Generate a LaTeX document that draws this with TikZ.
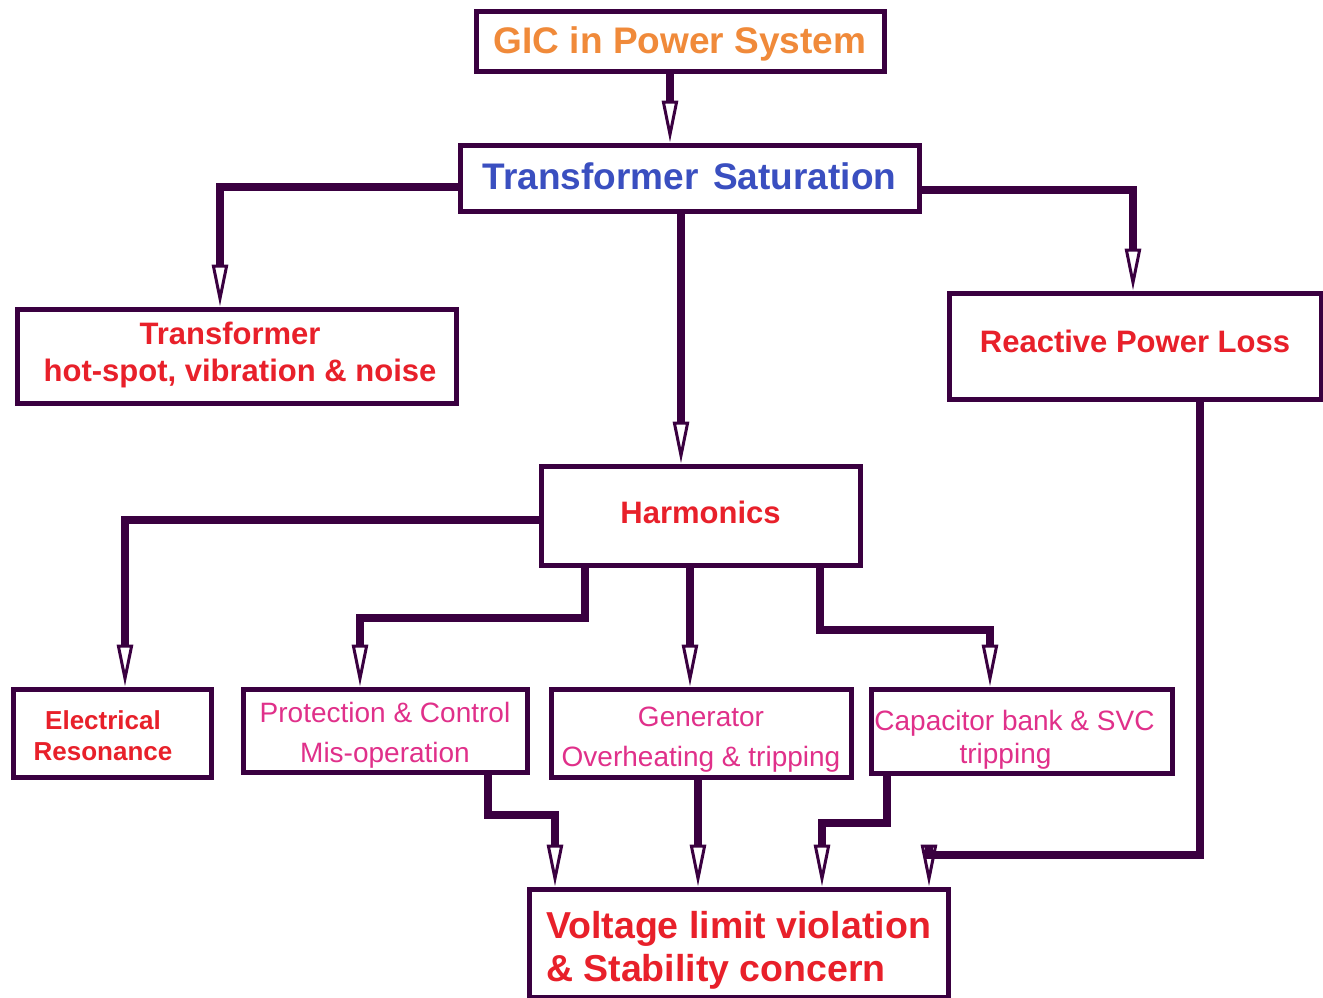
\documentclass[tikz,border=0pt]{standalone}
\usepackage{fontspec}
\setmainfont{Liberation Sans}
\usetikzlibrary{arrows.meta,calc}
\definecolor{linec}{HTML}{3A0040}
\definecolor{orangec}{HTML}{F08A3A}
\definecolor{bluec}{HTML}{3A4FC0}
\definecolor{redc}{HTML}{E8202A}
\definecolor{pinkc}{HTML}{E0308A}
\tikzset{
  box/.style={draw=linec, line width=5pt, fill=white, inner sep=0pt, align=center},
  conn/.style={draw=linec, line width=8pt, line join=miter, -{Triangle[open,length=42pt,width=16pt,line width=3pt]}},
  bigb/.style={font=\fontsize{31}{37}\selectfont\bfseries, text=redc},
  smallp/.style={font=\fontsize{28}{40}\selectfont, text=pinkc},
}
\begin{document}
\begin{tikzpicture}[x=1pt,y=-1pt]
\useasboundingbox (0,0) rectangle (1323,997);
\clip (0,0) rectangle (1323,997);
% nodes
\node[box, minimum width=408pt, minimum height=60pt, text height=30pt, text depth=6pt, font=\fontsize{37}{40}\selectfont\bfseries, text=orangec] (gic) at (680,41) {GIC in Power System};
\node[box, minimum width=459pt, minimum height=66pt, text height=28pt, text depth=6pt, font=\fontsize{37}{40}\selectfont\bfseries, text=bluec] (ts) at (689.5,178) {Transformer\hspace{0.12em} Saturation};
\node[box, bigb, minimum width=439pt, minimum height=94pt, text height=60pt, text depth=10pt] (hot) at (236.5,356) {Transformer\hspace*{13pt}\\\hspace*{7pt}hot-spot, vibration \& noise};
\node[box, bigb, minimum width=372pt, minimum height=106pt, text height=20pt, text depth=8pt] (rpl) at (1135,346) {Reactive Power Loss};
\node[box, bigb, minimum width=319pt, minimum height=99pt, text height=22pt, text depth=7pt] (harm) at (700.5,515.5) {Harmonics};
\node[box, minimum width=198pt, minimum height=88pt, text height=60pt, text depth=6pt, font=\fontsize{26}{31}\selectfont\bfseries, text=redc] (elec) at (112,733) {Electrical\hspace*{18pt}\\Resonance\hspace*{18pt}};
\node[box, smallp, minimum width=284pt, minimum height=83pt, text height=68pt, text depth=5pt] (prot) at (385,730.5) {Protection \& Control\\Mis-operation};
\node[box, smallp, minimum width=300pt, minimum height=88pt, text height=70pt, text depth=4pt] (gen) at (701,733) {Generator\\Overheating \& tripping};
\node[box, minimum width=301pt, minimum height=84pt, text height=68pt, text depth=4pt, font=\fontsize{28}{33}\selectfont, text=pinkc] (cap) at (1021.5,731) {Capacitor bank \& SVC\hspace*{14pt}\\tripping\hspace*{32pt}};
\node[box, minimum width=419pt, minimum height=108pt, text height=84pt, text depth=8pt, align=left, font=\fontsize{37.5}{43}\selectfont\bfseries, text=redc] (volt) at (738.5,943) {Voltage limit violation\\\& Stability concern};
% connector coordinates
\coordinate (a1) at ([xshift=-10pt]gic.south);
\coordinate (b1) at ([yshift=-9pt]ts.west);
\coordinate (b2) at ([xshift=-16.5pt]hot.north);
\coordinate (c1) at ([xshift=-8.5pt]ts.south);
\coordinate (d1) at ([yshift=-12pt]ts.east);
\coordinate (d2) at ([xshift=-2pt]rpl.north);
\coordinate (e1) at ([yshift=-4.5pt]harm.west);
\coordinate (e2) at ([xshift=13pt]elec.north);
\coordinate (f1) at ([xshift=-115.5pt]harm.south);
\coordinate (f2) at ([xshift=-25pt]prot.north);
\coordinate (g1) at ([xshift=-10.5pt]harm.south);
\coordinate (h1) at ([xshift=119.5pt]harm.south);
\coordinate (h2) at ([xshift=-31.5pt]cap.north);
\coordinate (i1) at ([xshift=103pt]prot.south);
\coordinate (i2) at ([xshift=-183.5pt]volt.north);
\coordinate (j1) at ([xshift=-3pt]gen.south);
\coordinate (k1) at ([xshift=-134.5pt]cap.south);
\coordinate (k2) at ([xshift=83.5pt]volt.north);
\coordinate (l1) at ([xshift=65pt]rpl.south);
\coordinate (l2) at ([xshift=190.5pt]volt.north);
% connectors
\draw[conn] (a1) -- (a1 |- ts.north);
\draw[conn] (b1) -| (b2);
\draw[conn] (c1) -- (c1 |- harm.north);
\draw[conn] (d1) -| (d2);
\draw[conn] (e1) -| (e2);
\draw[conn] (f1) -- ++(0,50) -| (f2);
\draw[conn] (g1) -- (g1 |- gen.north);
\draw[conn] (h1) -- ++(0,62) -| (h2);
\draw[conn] (i1) -- ++(0,40) -| (i2);
\draw[conn] (j1) -- (j1 |- volt.north);
\draw[conn] (k1) -- ++(0,47) -| (k2);
\draw[conn] (l1) -- ++(0,453) -| (l2);
\end{tikzpicture}
\end{document}
